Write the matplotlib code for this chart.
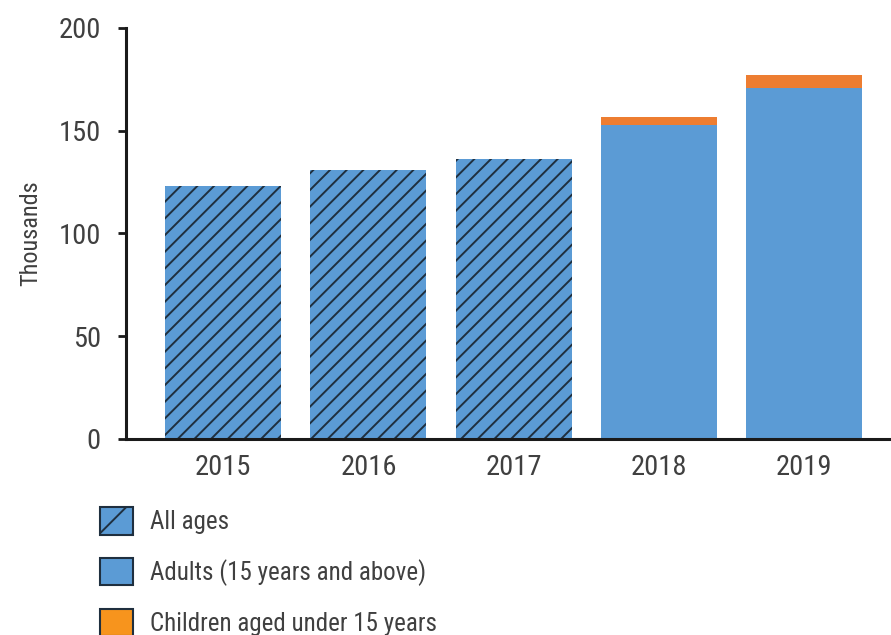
import matplotlib.pyplot as plt
from matplotlib import font_manager
from matplotlib.patches import Patch

# Data (thousands)
years = ['2015', '2016', '2017', '2018', '2019']
all_ages_years = ['2015', '2016', '2017']
all_ages = [123, 131, 136]
split_years = ['2018', '2019']
adults = [153, 171]
children = [3.5, 6]

BLUE = '#5B9BD5'
ORANGE = '#ED7D31'
TEXT = '#404040'

names = {f.name for f in font_manager.fontManager.ttflist}
family = 'DejaVu Sans'
for cand in ['Liberation Sans Narrow', 'Roboto Condensed', 'Open Sans Condensed', 'Roboto']:
    if cand in names:
        family = cand
        break
plt.rcParams['font.family'] = [family, 'DejaVu Sans']
plt.rcParams['hatch.linewidth'] = 1.4

fig = plt.figure(figsize=(8.91, 6.35), dpi=100)
ax = fig.add_axes([0.1414, 0.3087, 0.8586, 0.6473])

xpos = {y: i for i, y in enumerate(years)}
ax.bar([xpos[y] for y in all_ages_years], all_ages, width=0.8, color=BLUE,
       edgecolor='#1f2f3f', linewidth=0, hatch='//')
ax.bar([xpos[y] for y in split_years], adults, width=0.8, color=BLUE, linewidth=0)
ax.bar([xpos[y] for y in split_years], children, bottom=adults, width=0.8,
       color=ORANGE, linewidth=0)

ax.set_xlim(-0.67, 4.6)
ax.set_ylim(0, 200)
ax.set_yticks([0, 50, 100, 150, 200])
ax.set_xticks(range(len(years)))
ax.set_xticklabels(years)
ax.set_ylabel('Thousands', fontsize=17.5, color=TEXT, labelpad=12)

for side in ['top', 'right']:
    ax.spines[side].set_visible(False)
for side in ['left', 'bottom']:
    ax.spines[side].set_linewidth(2.2)
    ax.spines[side].set_color('#1a1a1a')
ax.tick_params(axis='y', length=6, width=2, color='#1a1a1a', labelsize=20.5,
               labelcolor=TEXT, pad=12)
ax.tick_params(axis='x', length=0, labelsize=20.5, labelcolor=TEXT, pad=11)

handles = [
    Patch(facecolor=BLUE, edgecolor='#1f2f3f', linewidth=1.5, hatch='/'),
    Patch(facecolor=BLUE, edgecolor='#1f2f3f', linewidth=1.5),
    Patch(facecolor='#F7941D', edgecolor='#1f2f3f', linewidth=1.5),
]
labels = ['All ages', 'Adults (15 years and above)', 'Children aged under 15 years']
leg = fig.legend(handles, labels, loc='upper left', bbox_to_anchor=(0.112, 0.201),
                 frameon=False, fontsize=18, handlelength=1.32, handleheight=1.3,
                 labelspacing=0.92, handletextpad=0.7, borderaxespad=0, borderpad=0)
for t in leg.get_texts():
    t.set_color(TEXT)

fig.savefig('out.png', dpi=100)
